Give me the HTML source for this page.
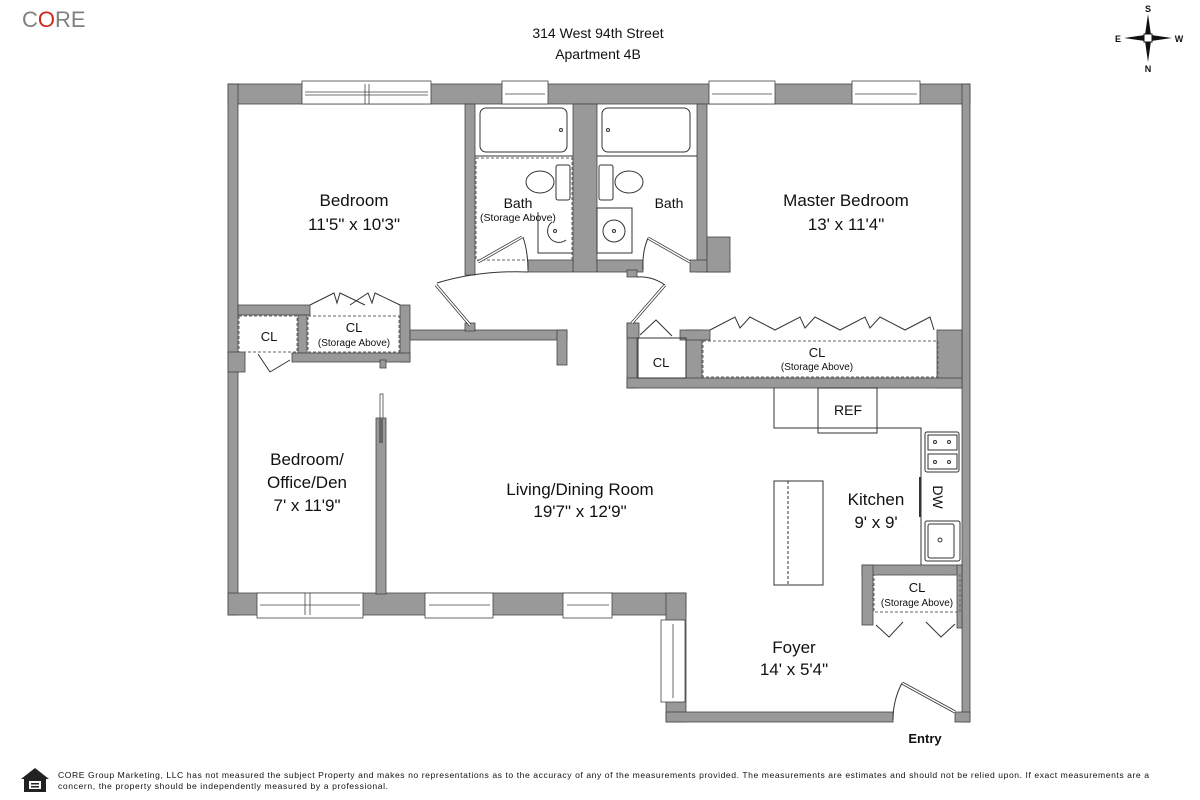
<!DOCTYPE html>
<html><head><meta charset="utf-8"><style>
html,body{margin:0;padding:0;background:#fff;}
svg{display:block;}
text{font-family:"Liberation Sans",Arial,sans-serif;fill:#111;}
</style></head><body>
<svg width="1200" height="800" viewBox="0 0 1200 800" xmlns="http://www.w3.org/2000/svg">
<!-- header -->
<text x="22" y="27" font-size="22" style="fill:#808080">C<tspan style="fill:#d0281e">O</tspan>RE</text>
<text x="598" y="38" font-size="14" text-anchor="middle">314 West 94th Street</text>
<text x="598" y="59" font-size="14" text-anchor="middle">Apartment 4B</text>
<!-- compass -->
<g transform="translate(1148,38)">
<polygon points="0,-24 3,-3 0,0 -3,-3" fill="#111"/>
<polygon points="0,24 3,3 0,0 -3,3" fill="#111"/>
<polygon points="-24,0 -3,-3 0,0 -3,3" fill="#111"/>
<polygon points="24,0 3,3 0,0 3,-3" fill="#111"/>
<rect x="-4" y="-4" width="8" height="8" fill="#fff" stroke="#111" stroke-width="1"/>
<text x="0" y="-26" font-size="9" text-anchor="middle" font-family="Liberation Serif" font-weight="bold">S</text>
<text x="0" y="34" font-size="9" text-anchor="middle" font-family="Liberation Serif" font-weight="bold">N</text>
<text x="-30" y="4" font-size="9" text-anchor="middle" font-family="Liberation Serif" font-weight="bold">E</text>
<text x="31" y="4" font-size="9" text-anchor="middle" font-family="Liberation Serif" font-weight="bold">W</text>
</g>

<g fill="#999" stroke="#444" stroke-width="0.8">
<rect x="228" y="84" width="742" height="20"/>
<rect x="228" y="84" width="10" height="531"/>
<rect x="962" y="84" width="8" height="638"/>
<rect x="228" y="593" width="458" height="22"/>
<rect x="666" y="593" width="20" height="129"/>
<rect x="666" y="712" width="227" height="10"/>
<rect x="955" y="712" width="15" height="10"/>
<rect x="465" y="104" width="10" height="171"/>
<rect x="573" y="104" width="24" height="168"/>
<rect x="528" y="260" width="45" height="12"/>
<rect x="597" y="260" width="46" height="12"/>
<rect x="627" y="270" width="10" height="7"/>
<rect x="697" y="104" width="10" height="168"/>
<rect x="690" y="260" width="40" height="12"/>
<rect x="707" y="237" width="23" height="35"/>
<rect x="238" y="305" width="72" height="10"/>
<rect x="298" y="315" width="9" height="38"/>
<rect x="400" y="305" width="10" height="57"/>
<rect x="292" y="353" width="118" height="9"/>
<rect x="380" y="360" width="6" height="8"/>
<rect x="410" y="330" width="157" height="10"/>
<rect x="557" y="330" width="10" height="35"/>
<rect x="465" y="323" width="10" height="8"/>
<rect x="228" y="352" width="17" height="20"/>
<rect x="376" y="418" width="10" height="176"/>
<rect x="627" y="323" width="10" height="65"/>
<rect x="627" y="323" width="12" height="15"/>
<rect x="686" y="330" width="16" height="50"/>
<rect x="680" y="330" width="30" height="10"/>
<rect x="937" y="330" width="25" height="58"/>
<rect x="627" y="378" width="335" height="10"/>
<rect x="862" y="565" width="100" height="10"/>
<rect x="862" y="565" width="11" height="60"/>
<rect x="957" y="565" width="5" height="63"/>
</g>

<g fill="#fff" stroke="#444" stroke-width="0.8">
<rect x="302" y="81" width="129" height="23"/><line x1="305" y1="95" x2="428" y2="95"/><line x1="305" y1="92" x2="428" y2="92"/><line x1="365" y1="84" x2="365" y2="104"/><line x1="369" y1="84" x2="369" y2="104"/>
<rect x="502" y="81" width="46" height="23"/><line x1="505" y1="94" x2="545" y2="94"/>
<rect x="709" y="81" width="66" height="23"/><line x1="712" y1="94" x2="772" y2="94"/>
<rect x="852" y="81" width="68" height="23"/><line x1="855" y1="94" x2="917" y2="94"/>
<rect x="257" y="593" width="106" height="25"/><line x1="260" y1="605" x2="360" y2="605"/><line x1="305" y1="593" x2="305" y2="615"/><line x1="310" y1="593" x2="310" y2="615"/>
<rect x="425" y="593" width="68" height="25"/><line x1="429" y1="605" x2="490" y2="605"/>
<rect x="563" y="593" width="49" height="25"/><line x1="567" y1="605" x2="609" y2="605"/>
<rect x="661" y="620" width="24" height="82"/><line x1="673" y1="624" x2="673" y2="698"/>
<rect x="380" y="394" width="3" height="24"/>
</g>
<rect x="379" y="418" width="4" height="25" fill="#666"/>

<g fill="none" stroke="#333" stroke-width="1">
<rect x="480" y="108" width="87" height="44" rx="6"/><circle cx="561" cy="130" r="1.5"/>
<rect x="602" y="108" width="88" height="44" rx="6"/><circle cx="608" cy="130" r="1.5"/>
<line x1="475" y1="156" x2="573" y2="156"/><line x1="597" y1="156" x2="697" y2="156"/>
<rect x="476" y="158" width="96" height="102" stroke-dasharray="3,2" stroke="#666"/>
<ellipse cx="540" cy="182" rx="14" ry="11"/><rect x="556" y="165" width="14" height="35" rx="2"/>
<ellipse cx="629" cy="182" rx="14" ry="11"/><rect x="599" y="165" width="14" height="35" rx="2"/>
<rect x="597" y="208" width="35" height="45"/><circle cx="614" cy="231" r="11"/><circle cx="614" cy="231" r="1.5"/>
<path d="M552 222 A10 10 0 1 0 566 240"/><circle cx="555" cy="231" r="1.5"/><polyline points="538,212 538,253 572,253"/>
<rect x="239" y="316" width="58" height="36" stroke-dasharray="3,2" stroke="#666"/>
<rect x="308" y="316" width="91" height="36" stroke-dasharray="3,2" stroke="#666"/>
<rect x="703" y="341" width="235" height="36" stroke-dasharray="3,2" stroke="#666"/>
<rect x="874" y="575" width="86" height="37" stroke-dasharray="3,2" stroke="#666"/>
<rect x="638" y="338" width="48" height="40"/>
<polyline points="774,388 774,428 921,428 921,565"/>
<rect x="818" y="388" width="59" height="45"/>
<rect x="925" y="432" width="34" height="40" rx="2"/>
<rect x="928" y="435" width="29" height="15"/><rect x="928" y="454" width="29" height="15"/>
<circle cx="935" cy="442" r="1.5"/><circle cx="949" cy="442" r="1.5"/><circle cx="935" cy="462" r="1.5"/><circle cx="949" cy="462" r="1.5"/>
<rect x="925" y="521" width="35" height="40" rx="2"/><rect x="928" y="524" width="26" height="34" rx="2"/><circle cx="940" cy="540" r="2"/>
<line x1="920" y1="477" x2="920" y2="517" stroke-width="2"/>
<rect x="774" y="481" width="49" height="104"/><line x1="788" y1="481" x2="788" y2="585" stroke-dasharray="3,2"/>
</g>

<g fill="none" stroke="#333" stroke-width="1">
<path d="M470 325 L436 285" stroke-width="3"/><path d="M470 325 L436 285" stroke="#fff" stroke-width="1.5"/>
<path d="M437 283 Q480 270 528 272"/>
<path d="M632 323 L665 285" stroke-width="3"/><path d="M632 323 L665 285" stroke="#fff" stroke-width="1.5"/>
<path d="M665 285 Q652 276 637 277"/>
<path d="M478 262 L522 237" stroke-width="3"/><path d="M478 262 L522 237" stroke="#fff" stroke-width="1.5"/>
<path d="M523 237 Q528 252 528 270"/>
<path d="M690 262 L648 238" stroke-width="3"/><path d="M690 262 L648 238" stroke="#fff" stroke-width="1.5"/>
<path d="M648 238 Q642 252 643 270"/>
<path d="M955 712 L902 683" stroke-width="3"/><path d="M955 712 L902 683" stroke="#fff" stroke-width="1.5"/>
<path d="M902 683 Q893 700 893 720"/>
<polyline points="310,305 334,293 337,303 340,293 365,305"/>
<polyline points="350,305 368,293 372,303 375,293 400,305"/>
<polyline points="258,354 270,372 290,360"/>
<polyline points="640,335 656,320 672,336"/>
<polyline points="710,330 735,317 740,328 750,317 775,330 800,317 805,328 815,317 840,330 865,317 870,328 880,317 905,330 930,317 934,330"/>
<polyline points="876,625 889,637 903,622"/>
<polyline points="926,622 941,637 955,624"/>
</g>

<g text-anchor="middle">
<text x="354" y="206" font-size="17">Bedroom</text>
<text x="354" y="230" font-size="17">11'5" x 10'3"</text>
<text x="518" y="208" font-size="14">Bath</text>
<text x="518" y="221" font-size="10.5">(Storage Above)</text>
<text x="669" y="208" font-size="14">Bath</text>
<text x="846" y="206" font-size="17">Master Bedroom</text>
<text x="846" y="230" font-size="17">13' x 11'4"</text>
<text x="269" y="341" font-size="13">CL</text>
<text x="354" y="332" font-size="13">CL</text>
<text x="354" y="346" font-size="10">(Storage Above)</text>
<text x="661" y="367" font-size="13">CL</text>
<text x="817" y="357" font-size="13">CL</text>
<text x="817" y="370" font-size="10">(Storage Above)</text>
<text x="848" y="415" font-size="14">REF</text>
<text x="307" y="465" font-size="17">Bedroom/</text>
<text x="307" y="488" font-size="17">Office/Den</text>
<text x="307" y="511" font-size="17">7' x 11'9"</text>
<text x="580" y="495" font-size="17">Living/Dining Room</text>
<text x="580" y="517" font-size="17">19'7" x 12'9"</text>
<text x="876" y="505" font-size="17">Kitchen</text>
<text x="876" y="528" font-size="17">9' x 9'</text>
<text x="0" y="0" font-size="14" transform="translate(933,497) rotate(90)">DW</text>
<text x="917" y="592" font-size="13">CL</text>
<text x="917" y="606" font-size="10">(Storage Above)</text>
<text x="794" y="653" font-size="17">Foyer</text>
<text x="794" y="675" font-size="17">14' x 5'4"</text>
<text x="925" y="743" font-size="13" font-weight="bold">Entry</text>
</g>

<g>
<polygon points="35,768 21,779 24,779 24,792 46,792 46,779 49,779" fill="#222"/>
<rect x="29" y="781" width="12" height="8" fill="#fff"/>
<rect x="31" y="783" width="8" height="1.5" fill="#222"/><rect x="31" y="786" width="8" height="1.5" fill="#222"/>
<text x="58" y="778" font-size="8.6" textLength="1091" lengthAdjust="spacing">CORE Group Marketing, LLC has not measured the subject Property and makes no representations as to the accuracy of any of the measurements provided. The measurements are estimates and should not be relied upon. If exact measurements are a</text>
<text x="58" y="789" font-size="8.6" textLength="330" lengthAdjust="spacing">concern, the property should be independently measured by a professional.</text>
</g>
</svg>
</body></html>
